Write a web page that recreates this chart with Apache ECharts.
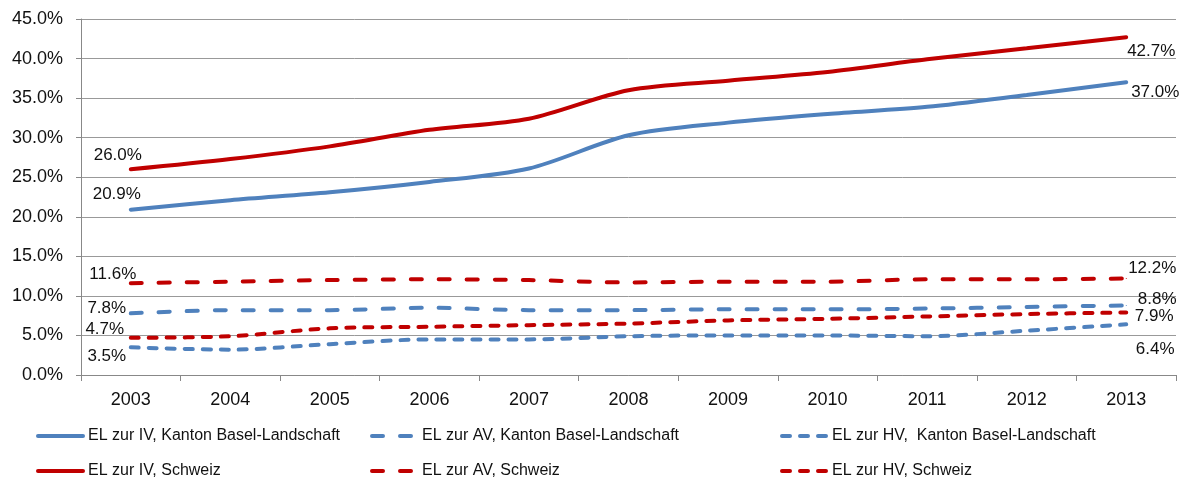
<!DOCTYPE html>
<html>
<head>
<meta charset="utf-8">
<style>
  html, body { margin: 0; padding: 0; background: #fff; }
  #chart { width: 1181px; height: 478px; }
</style>
<script src="https://cdn.jsdelivr.net/npm/echarts@6/dist/echarts.min.js"></script>
</head>
<body>
<div id="chart"></div>
<script>
// Years on the category axis
const years = ['2003', '2004', '2005', '2006', '2007', '2008', '2009', '2010', '2011', '2012', '2013'];

// Shares in percent
const ivBL = [20.9, 22.1, 23.1, 24.4, 26.1, 30.3, 31.9, 33.0, 33.9, 35.4, 37.0];
const avBL = [7.8, 8.2, 8.2, 8.5, 8.2, 8.2, 8.3, 8.3, 8.4, 8.6, 8.8];
const hvBL = [3.5, 3.2, 3.9, 4.5, 4.5, 4.9, 5.0, 5.0, 4.9, 5.6, 6.4];
const ivCH = [26.0, 27.3, 28.9, 31.0, 32.4, 36.0, 37.2, 38.3, 39.9, 41.3, 42.7];
const avCH = [11.6, 11.8, 12.0, 12.1, 12.0, 11.7, 11.8, 11.8, 12.1, 12.1, 12.2];
const hvCH = [4.7, 4.9, 5.9, 6.1, 6.3, 6.5, 6.9, 7.1, 7.4, 7.7, 7.9];

// Y-axis range
const yMin = 0, yMax = 45, yStep = 5;

const BLUE = '#4F81BD';
const RED = '#C00000';
const FONT = '"Liberation Sans", Arial, sans-serif';

const pct = v => v.toFixed(1) + '%';

// Build a series' data, labelling only the first and last year
function withEndLabels(values, firstOffset, lastOffset) {
  return values.map((v, i) => {
    if (i === 0 || i === values.length - 1) {
      return {
        value: v,
        symbol: 'circle',
        symbolSize: 1,
        label: {
          show: true,
          position: 'inside',
          align: 'center',
          verticalAlign: 'middle',
          offset: i === 0 ? firstOffset : lastOffset,
          formatter: p => pct(p.value),
          color: '#111',
          fontFamily: FONT,
          fontSize: 17
        }
      };
    }
    return v;
  });
}

function lineSeries(name, values, color, dash, firstOffset, lastOffset, z) {
  return {
    name: name,
    type: 'line',
    data: withEndLabels(values, firstOffset, lastOffset),
    smooth: 0.3,
    symbol: 'none',
    showSymbol: true,
    z: z,
    itemStyle: { color: color },
    lineStyle: { color: color, width: 4, type: dash, cap: 'round' },
    emphasis: { disabled: true },
    animation: false
  };
}

const names = [
  'EL zur IV, Kanton Basel-Landschaft',
  'EL zur AV, Kanton Basel-Landschaft',
  'EL zur HV,  Kanton Basel-Landschaft',
  'EL zur IV, Schweiz',
  'EL zur AV, Schweiz',
  'EL zur HV, Schweiz'
];

const longDash = [11, 17];
const shortDash = [8, 10];

const series = [
  lineSeries(names[0], ivBL, BLUE, 'solid', [-14, -15], [29, 10], 3),
  lineSeries(names[1], avBL, BLUE, longDash, [-24, -5], [31, -6], 2),
  lineSeries(names[2], hvBL, BLUE, shortDash, [-24, 9], [29, 25], 2),
  lineSeries(names[3], ivCH, RED, 'solid', [-13, -14], [25, 14], 3),
  lineSeries(names[4], avCH, RED, longDash, [-18, -9], [26, -10], 2),
  lineSeries(names[5], hvCH, RED, shortDash, [-26, -9], [28, 4], 2)
];

// One legend block per entry, laid out in three columns and two rows
const colX = [36, 370, 780];
const rowY = [428, 463];
const legends = names.map((n, i) => ({
  data: [n],
  left: colX[i % 3],
  top: rowY[Math.floor(i / 3)],
  itemWidth: 45,
  itemHeight: 16,
  itemGap: 0,
  padding: 0,
  selectedMode: false,
  itemStyle: { opacity: 0 },
  lineStyle: { width: 4 },
  textStyle: { fontFamily: FONT, fontSize: 16, color: '#111', padding: [0, 0, 0, 0] }
}));

const chart = echarts.init(document.getElementById('chart'), null, { renderer: 'canvas' });
chart.setOption({
  backgroundColor: '#fff',
  animation: false,
  grid: { left: 81, right: 5, top: 19, bottom: 103, containLabel: false },
  legend: legends,
  xAxis: {
    type: 'category',
    data: years,
    boundaryGap: true,
    axisLine: { lineStyle: { color: '#888', width: 1 } },
    axisTick: { show: true, length: 6, lineStyle: { color: '#888' } },
    axisLabel: { fontFamily: FONT, fontSize: 18, color: '#111', margin: 16 }
  },
  yAxis: {
    type: 'value',
    min: yMin,
    max: yMax,
    interval: yStep,
    axisLine: { show: true, lineStyle: { color: '#888', width: 1 } },
    axisTick: { show: true, length: 5, lineStyle: { color: '#888' } },
    axisLabel: { fontFamily: FONT, fontSize: 18, color: '#111', margin: 18, formatter: v => pct(v) },
    splitLine: { show: true, lineStyle: { color: '#999', width: 1 } }
  },
  series: series
});
</script>
</body>
</html>
